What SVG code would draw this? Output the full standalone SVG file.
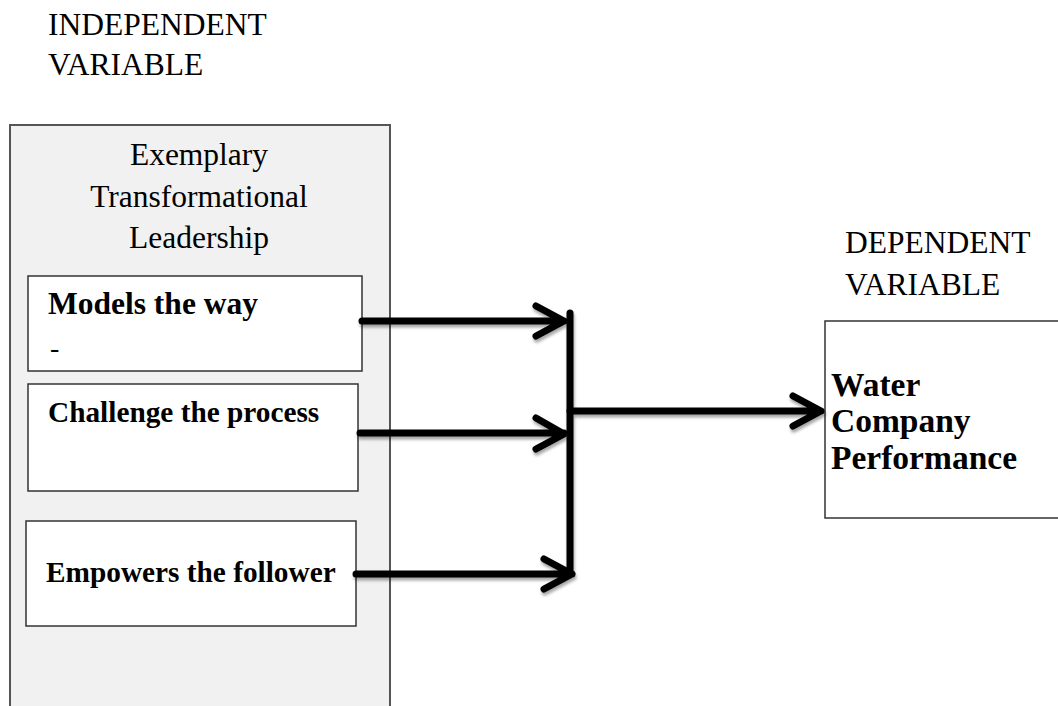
<svg xmlns="http://www.w3.org/2000/svg" width="1058" height="706" viewBox="0 0 1058 706">
<defs>
<style>
.lbl{font-family:"Liberation Serif","Times New Roman",serif;fill:#000}
.reg{font-size:31.5px}
.bold{font-weight:bold}
.box{fill:#fff;stroke:#333;stroke-width:1.5}
.conn{fill:none;stroke:#000;stroke-width:7;stroke-linecap:round;stroke-linejoin:round}
</style>
<filter id="sh" x="-10%" y="-10%" width="120%" height="130%">
<feDropShadow dx="1" dy="3" stdDeviation="1.5" flood-color="#000" flood-opacity="0.35"/>
</filter>
</defs>
<rect width="1058" height="706" fill="#fff"/>
<g id="independent-label">
<text class="lbl reg" x="48" y="35">INDEPENDENT</text>
<text class="lbl reg" x="48" y="75">VARIABLE</text>
</g>
<g id="dependent-label">
<text class="lbl reg" x="845" y="253">DEPENDENT</text>
<text class="lbl reg" x="845" y="295">VARIABLE</text>
</g>
<g id="leadership">
<rect x="10" y="125" width="380" height="600" fill="#f1f1f1" stroke="#555" stroke-width="2"/>
<text class="lbl reg" x="199" y="165" text-anchor="middle">Exemplary</text>
<text class="lbl reg" x="199" y="207" text-anchor="middle">Transformational</text>
<text class="lbl reg" x="199" y="248" text-anchor="middle">Leadership</text>
</g>
<g id="models">
<rect class="box" x="28" y="276" width="334" height="95"/>
<text class="lbl bold" x="48" y="314" font-size="31.5">Models the way</text>
<text class="lbl" x="50" y="357" font-size="28">-</text>
</g>
<g id="challenge">
<rect class="box" x="28" y="384" width="330" height="107"/>
<text class="lbl bold" x="48" y="422" font-size="29.3">Challenge the process</text>
</g>
<g id="empowers">
<rect class="box" x="26" y="521" width="330" height="105"/>
<text class="lbl bold" x="46" y="582" font-size="29.3">Empowers the follower</text>
</g>
<g id="performance">
<rect class="box" x="825" y="321" width="260" height="197"/>
<text class="lbl bold" x="831" y="396" font-size="33.5">Water</text>
<text class="lbl bold" x="831" y="432" font-size="33.5">Company</text>
<text class="lbl bold" x="831" y="469" font-size="33.5">Performance</text>
</g>
<g id="connectors" filter="url(#sh)">
<path class="conn" d="M362 321 H564 M536 306 L564 321 L536 336"/>
<path class="conn" d="M360 433 H564 M536 418 L564 434 L536 449"/>
<path class="conn" d="M356 574 H572 M544 559 L572 574 L544 589"/>
<path class="conn" d="M570 313 V574"/>
<path class="conn" d="M570 411 H821 M793 396 L821 411 L793 426"/>
</g>
</svg>
